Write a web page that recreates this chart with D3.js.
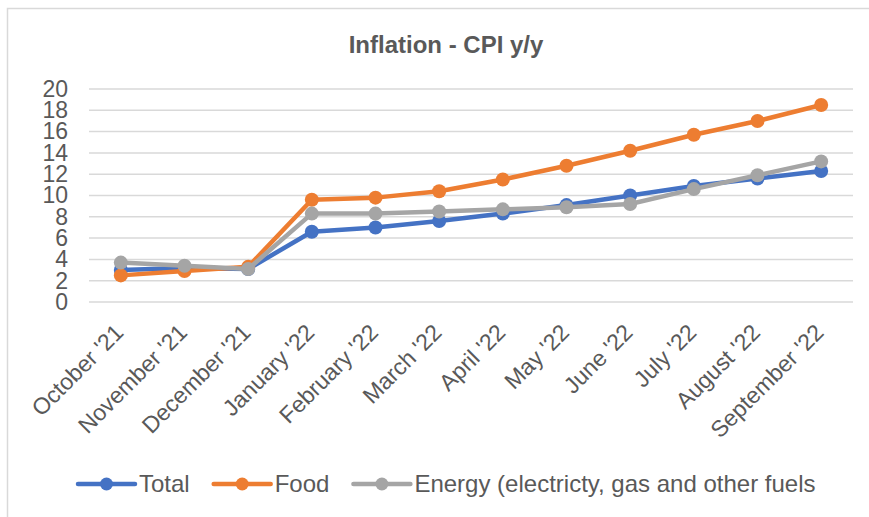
<!DOCTYPE html>
<html>
<head>
<meta charset="utf-8">
<script src="https://cdn.jsdelivr.net/npm/d3@7"></script>
<style>
    body { margin: 0; background: #fff; }
    text { font-family: "Liberation Sans", Arial, sans-serif; fill: #595959; }
</style>
</head>
<body>
<script>
//chart data
var months = ["October '21", "November '21", "December '21", "January '22", "February '22", "March '22",
    "April '22", "May '22", "June '22", "July '22", "August '22", "September '22"];
var total = [3.0, 3.2, 3.1, 6.6, 7.0, 7.6, 8.3, 9.1, 10.0, 10.9, 11.6, 12.3];
var food = [2.5, 2.9, 3.3, 9.6, 9.8, 10.4, 11.5, 12.8, 14.2, 15.7, 17.0, 18.5];
var energy = [3.7, 3.4, 3.1, 8.3, 8.3, 8.5, 8.7, 8.9, 9.2, 10.6, 11.9, 13.2];
var seriesNames = ["Total", "Food", "Energy (electricty, gas and other fuels"];
var seriesColors = ["#4472C4", "#ED7D31", "#A5A5A5"];
var yTicks = [0, 2, 4, 6, 8, 10, 12, 14, 16, 18, 20];

window.onload = drawChart();

function drawChart() {
    var width = 869,
        height = 517;

    var svg = d3.select("body")
        .append("svg")
        .attr("width", width)
        .attr("height", height);

    //outer chart frame (runs off the right and bottom edges)
    svg.append("rect")
        .attr("x", 7.5)
        .attr("y", 8.5)
        .attr("width", 900)
        .attr("height", 600)
        .attr("fill", "none")
        .attr("stroke", "#D9D9D9")
        .attr("stroke-width", 1.5);

    //title
    svg.append("text")
        .attr("x", 446)
        .attr("y", 53)
        .attr("text-anchor", "middle")
        .style("font-size", "24px")
        .style("font-weight", "bold")
        .text("Inflation - CPI y/y");

    //scales
    var x = d3.scaleBand()
        .domain(months)
        .range([89, 853]);

    var y = d3.scaleLinear()
        .domain([0, 20])
        .range([302, 89]);

    //gridlines
    svg.append("g")
        .selectAll("line")
        .data(yTicks)
        .enter()
        .append("line")
        .attr("x1", 89)
        .attr("x2", 853)
        .attr("y1", function(d){ return y(d); })
        .attr("y2", function(d){ return y(d); })
        .attr("stroke", "#D9D9D9")
        .attr("stroke-width", 1.5);

    //y axis labels
    var yAxis = svg.append("g")
        .attr("transform", "translate(68,0)")
        .call(d3.axisLeft(y).tickValues(yTicks).tickSize(0).tickPadding(0));
    yAxis.select(".domain").remove();
    yAxis.selectAll("text")
        .style("font-family", "'Liberation Sans', Arial, sans-serif")
        .style("font-size", "23px")
        .attr("fill", "#595959");

    //x axis labels, rotated
    svg.append("g")
        .selectAll("text")
        .data(months)
        .enter()
        .append("text")
        .attr("text-anchor", "end")
        .attr("transform", function(d){
            return "translate(" + (x(d) + x.bandwidth() / 2 + 4) + ",334) rotate(-45)";
        })
        .style("font-size", "23px")
        .text(function(d){ return d; });

    //series lines and markers
    var allSeries = [total, food, energy];
    var line = d3.line()
        .x(function(d, i){ return x(months[i]) + x.bandwidth() / 2; })
        .y(function(d){ return y(d); });

    allSeries.forEach(function(values, s) {
        var g = svg.append("g");
        g.append("path")
            .datum(values)
            .attr("d", line)
            .attr("fill", "none")
            .attr("stroke", seriesColors[s])
            .attr("stroke-width", 4.5)
            .attr("stroke-linejoin", "round")
            .attr("stroke-linecap", "round");
        g.selectAll("circle")
            .data(values)
            .enter()
            .append("circle")
            .attr("cx", function(d, i){ return x(months[i]) + x.bandwidth() / 2; })
            .attr("cy", function(d){ return y(d); })
            .attr("r", 7)
            .attr("fill", seriesColors[s]);
    });

    //legend
    var legend = svg.append("g");
    var lx = 78, ly = 484;
    seriesNames.forEach(function(name, s) {
        legend.append("line")
            .attr("x1", lx)
            .attr("x2", lx + 57)
            .attr("y1", ly)
            .attr("y2", ly)
            .attr("stroke", seriesColors[s])
            .attr("stroke-width", 4.5)
            .attr("stroke-linecap", "round");
        legend.append("circle")
            .attr("cx", lx + 28.5)
            .attr("cy", ly)
            .attr("r", 6.5)
            .attr("fill", seriesColors[s]);
        var t = legend.append("text")
            .attr("x", lx + 61)
            .attr("y", ly)
            .attr("dy", "0.35em")
            .style("font-size", "24px")
            .text(name);
        lx += 61 + t.node().getComputedTextLength() + 24;
    });
}
</script>
</body>
</html>
